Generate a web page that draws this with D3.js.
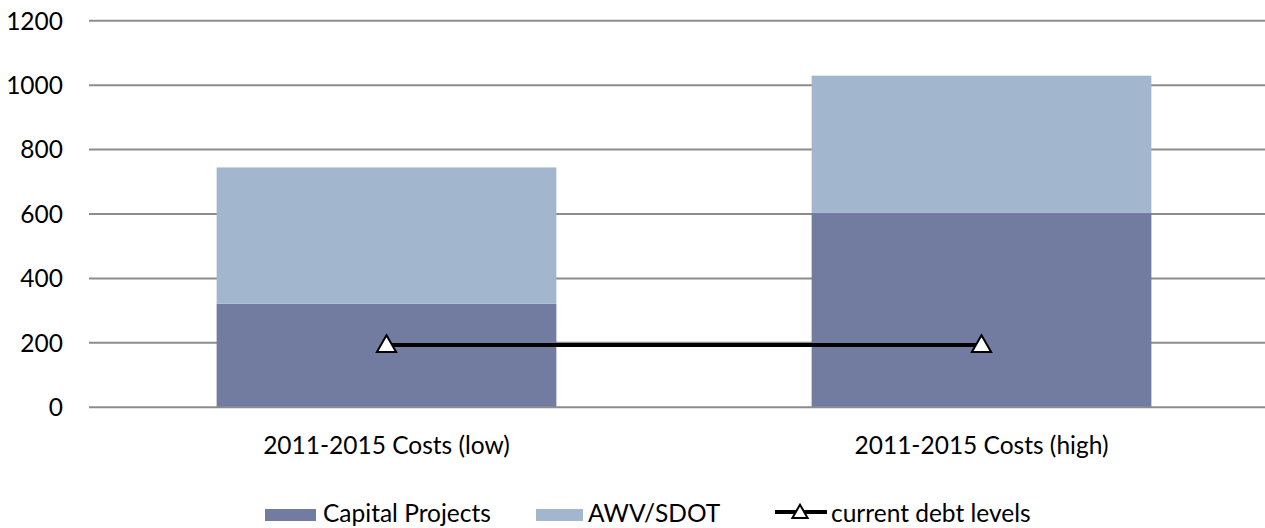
<!DOCTYPE html>
<html><head><meta charset="utf-8">
<script src="https://cdn.jsdelivr.net/npm/d3@7/dist/d3.min.js"></script>
<style>body{margin:0;background:#fff}svg{display:block}text{font-family:Lato,"Open Sans",sans-serif;fill:#000}</style>
</head><body><svg id="c" width="1265" height="528"></svg>
<script>
const categories = ["2011-2015 Costs (low)", "2011-2015 Costs (high)"];
const capitalProjects = [320, 603];
const awvSdot = [423, 425];
const currentDebt = [192, 192];
const yTicks = [0, 200, 400, 600, 800, 1000, 1200];
const seriesNames = ["Capital Projects", "AWV/SDOT", "current debt levels"];

const colors = {cap: "#727BA0", awv: "#A2B7CD", grid: "#8c8c8c"};
const FS = "24.5px";
const svg = d3.select("#c");
const x = d3.scaleBand().domain(categories).range([89, 1279]).paddingInner(0).paddingOuter(0);
const y = d3.scaleLinear().domain([0, 1200]).range([406.7, 20.3]);
const barW = x.bandwidth() * 0.571;

// grid + y axis
const yAxis = d3.axisLeft(y).tickValues(yTicks).tickFormat(d3.format("d")).tickSize(-(1279 - 89)).tickPadding(26);
const gy = svg.append("g").attr("transform", "translate(89,0)").call(yAxis);
gy.select(".domain").remove();
gy.selectAll(".tick line").attr("stroke", colors.grid).attr("stroke-width", 2);
gy.selectAll(".tick text").style("font-size", FS).attr("dy", "0.36em");

const stackData = categories.map((c, i) => ({c, cap: capitalProjects[i], awv: awvSdot[i]}));
const stack = d3.stack().keys(["cap", "awv"])(stackData);
svg.append("g").selectAll("g").data(stack).join("g")
  .attr("fill", d => colors[d.key])
  .selectAll("rect").data(d => d).join("rect")
  .attr("x", d => x(d.data.c) + (x.bandwidth() - barW) / 2)
  .attr("width", barW)
  .attr("y", d => y(d[1]))
  .attr("height", d => y(d[0]) - y(d[1]));

// x labels
svg.append("g").selectAll("text").data(categories).join("text")
  .attr("x", d => x(d) + x.bandwidth() / 2).attr("y", 454)
  .attr("text-anchor", "middle").style("font-size", FS).text(d => d);

// line
const cx = d => x(d) + x.bandwidth() / 2;
const line = d3.line().x((d, i) => cx(categories[i])).y(d => y(d));
svg.append("path").datum(currentDebt).attr("d", line).attr("fill", "none").attr("stroke", "#000").attr("stroke-width", 4);
const tri = d3.symbol().type(d3.symbolTriangle).size(160);
svg.append("g").selectAll("path").data(currentDebt).join("path")
  .attr("d", tri).attr("transform", (d, i) => `translate(${cx(categories[i])},${y(d) + 1.5})`)
  .attr("fill", "#fff").attr("stroke", "#000").attr("stroke-width", 2);

// legend
const lg = svg.append("g");
const base = 522;
lg.append("rect").attr("x", 265).attr("y", 509).attr("width", 51).attr("height", 12).attr("fill", colors.cap);
lg.append("text").attr("x", 323).attr("y", base).style("font-size", FS).text(seriesNames[0]);
lg.append("rect").attr("x", 536).attr("y", 509).attr("width", 47).attr("height", 12).attr("fill", colors.awv);
lg.append("text").attr("x", 588).attr("y", base).style("font-size", FS).text(seriesNames[1]);
lg.append("line").attr("x1", 775).attr("x2", 827).attr("y1", 512).attr("y2", 512).attr("stroke", "#000").attr("stroke-width", 4);
lg.append("path").attr("d", d3.symbol().type(d3.symbolTriangle).size(100)).attr("transform", `translate(800,${513.5})`)
  .attr("fill", "#fff").attr("stroke", "#000").attr("stroke-width", 2);
lg.append("text").attr("x", 831).attr("y", base).style("font-size", FS).text(seriesNames[2]);
</script></body></html>
